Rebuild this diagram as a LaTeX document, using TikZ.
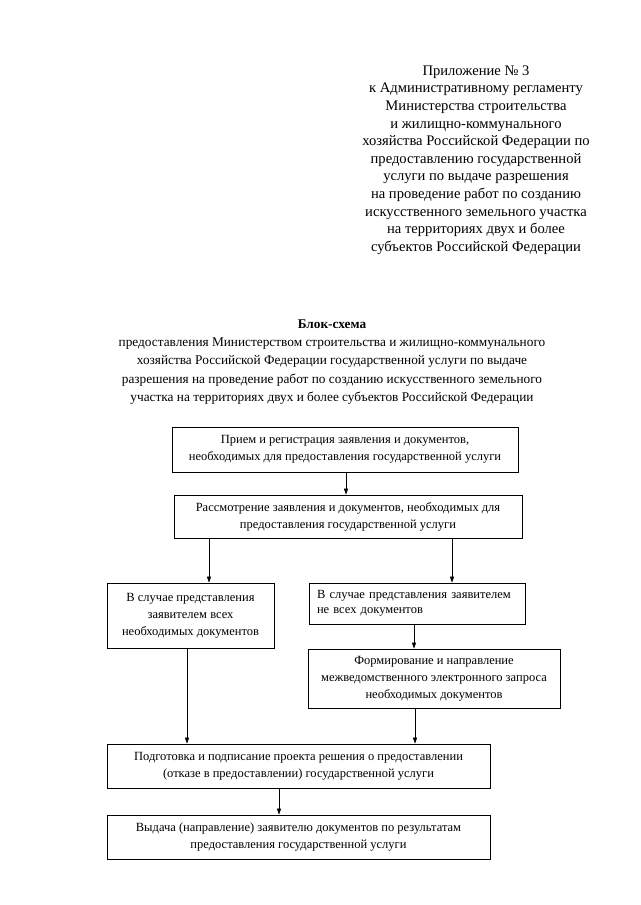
\documentclass[tikz,border=0pt]{standalone}
\usepackage{fontspec}
\setmainfont{Liberation Serif}
\usetikzlibrary{arrows.meta, calc}

\begin{document}
\begin{tikzpicture}[x=1pt, y=-1pt,
        box/.style={draw, line width=0.7pt, align=center, inner sep=2pt,
            font=\fontsize{12.5}{17}\selectfont},
        arr/.style={-{Triangle[length=6pt,width=4pt]}, line width=0.6pt}]
        \useasboundingbox (0,0) rectangle (640,905);

        % header
        \node[align=center, font=\fontsize{14.6}{17.6}\selectfont] (app) at (476,160)
            {Приложение № 3\\
             к Административному регламенту\\
             Министерства строительства\\
             и жилищно-коммунального\\
             хозяйства Российской Федерации по\\
             предоставлению государственной\\
             услуги по выдаче разрешения\\
             на проведение работ по созданию\\
             искусственного земельного участка\\
             на территориях двух и более\\
             субъектов Российской Федерации};

        \node[align=center, font=\fontsize{13.3}{18.2}\selectfont] (title) at (332,362)
            {\textbf{Блок-схема}\\
             предоставления Министерством строительства и жилищно-коммунального\\
             хозяйства Российской Федерации государственной услуги по выдаче\\
             разрешения на проведение работ по созданию искусственного земельного\\
             участка на территориях двух и более субъектов Российской Федерации};

        % boxes
        \node[box, minimum width=346, minimum height=45] (b1) at (345,449.5)
            {Прием и регистрация заявления и документов,\\
             необходимых для предоставления государственной услуги};
        \node[box, minimum width=348, minimum height=43] (b2) at (348,516.5)
            {Рассмотрение заявления и документов, необходимых для\\
             предоставления государственной услуги};
        \node[box, minimum width=167, minimum height=65] (b3) at (190.5,615.5)
            {В случае представления\\
             заявителем всех\\
             необходимых документов};
        \node[box, minimum width=216, minimum height=41, align=left, inner xsep=8pt,
            text width=200] (b4) at (417,603.5)
            {\makebox[200pt][s]{В случае представления заявителем}\\[-2pt]
             не всех документов};
        \node[box, minimum width=252, minimum height=59] (b5) at (434,678.5)
            {Формирование и направление\\
             межведомственного электронного запроса\\
             необходимых документов};
        \node[box, minimum width=383, minimum height=44] (b6) at (298.5,766)
            {Подготовка и подписание проекта решения о предоставлении\\
             (отказе в предоставлении) государственной услуги};
        \node[box, minimum width=383, minimum height=44] (b7) at (298.5,837)
            {Выдача (направление) заявителю документов по результатам\\
             предоставления государственной услуги};

        % arrows
        \draw[arr] (b1.south -| 346,0) -- (b2.north -| 346,0);
        \draw[arr] (b2.south -| 209,0) -- (b3.north -| 209,0);
        \draw[arr] (b2.south -| 452,0) -- (b4.north -| 452,0);
        \draw[arr] (b4.south -| 414,0) -- (b5.north -| 414,0);
        \draw[arr] (b3.south -| 187,0) -- (b6.north -| 187,0);
        \draw[arr] (b5.south -| 415,0) -- (b6.north -| 415,0);
        \draw[arr] (b6.south -| 279,0) -- (b7.north -| 279,0);

    \end{tikzpicture}
\end{document}
